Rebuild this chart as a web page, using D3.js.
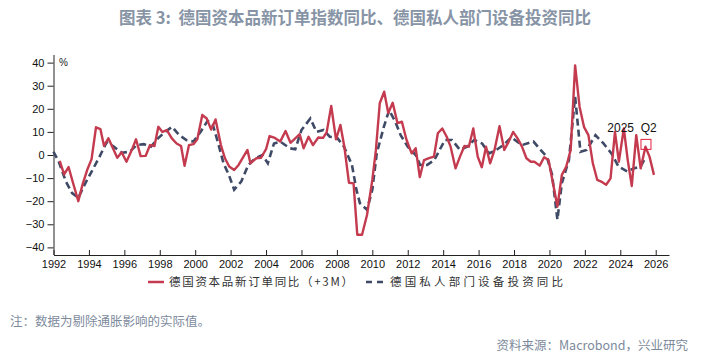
<!DOCTYPE html>
<html><head><meta charset="utf-8">
<script src="https://cdn.jsdelivr.net/npm/d3@7"></script>
<style>body{margin:0;background:#fff}svg{display:block}</style>
</head><body>
<svg id="c" width="707" height="357"></svg>
<script>
const redYears=[1992.35,1992.6,1992.85,1993.1,1993.4,1993.65,1993.9,1994.15,1994.4,1994.65,1994.85,1995.1,1995.35,1995.6,1995.85,1996.12,1996.4,1996.66,1996.92,1997.2,1997.45,1997.7,1997.92,1998.15,1998.4,1998.68,1998.95,1999.2,1999.4,1999.65,1999.9,2000.12,2000.4,2000.65,2000.9,2001.15,2001.45,2001.68,2001.92,2002.2,2002.45,2002.7,2002.95,2003.12,2003.45,2003.72,2004.0,2004.2,2004.5,2004.8,2005.1,2005.38,2005.65,2005.9,2006.12,2006.4,2006.65,2006.95,2007.22,2007.42,2007.68,2007.95,2008.2,2008.42,2008.68,2008.94,2009.15,2009.42,2009.7,2010.0,2010.2,2010.42,2010.67,2010.9,2011.15,2011.42,2011.67,2011.92,2012.22,2012.45,2012.68,2012.92,2013.2,2013.48,2013.7,2013.95,2014.2,2014.42,2014.7,2014.95,2015.2,2015.45,2015.7,2015.95,2016.18,2016.42,2016.65,2016.9,2017.18,2017.45,2017.7,2017.95,2018.2,2018.45,2018.7,2018.95,2019.15,2019.45,2019.7,2019.95,2020.2,2020.45,2020.7,2020.95,2021.2,2021.45,2021.7,2021.95,2022.2,2022.45,2022.7,2022.92,2023.2,2023.45,2023.7,2023.92,2024.2,2024.42,2024.65,2024.9,2025.15,2025.42,2025.65,2025.9];
const redValues=[-2.5,-8.4,-5.2,-12,-20,-12.5,-6.5,-1.8,12,11.2,4,7.2,3,-1.2,1.2,-2.9,1.8,6.8,-0.5,-0.4,4.3,3.9,12.2,10,10.8,7.2,5,3.9,-4.7,4.3,4.7,6.8,17.3,15.8,11,15.4,4.3,-1.4,-5,-6.5,-4.3,-1,2.2,-3.6,-1.4,-1.2,2.5,8.2,7.4,5.8,10.4,5.3,7.2,9,2.9,7.9,4.3,7.6,7.4,9.8,21.2,6.8,13,3.6,-12,-12.3,-34.5,-34.5,-26,-10.8,2,22.4,27.4,18.2,22.6,13.8,14.4,6.8,0.7,2.9,-9.6,-2.2,-1.4,-0.7,9.4,11.5,7.9,3.6,-5.8,-0.7,3.9,3.6,11.5,-0.7,-5.3,3.6,-3.6,2.2,12.5,2.2,5.8,10,7.2,3.6,-1.4,-2.9,-2.9,-4.6,-1,-2.2,-12.2,-22.3,-8.6,-5,2.2,38.8,20.9,12.2,8.6,-3.6,-10.8,-11.5,-12.9,-10.1,10,-2.9,11.5,-2.2,-13.4,8.6,-5.8,3.6,-0.7,-8.6];
const blueYears=[1992.0,1992.3,1992.7,1993.05,1993.4,1993.8,1994.2,1994.6,1995.0,1995.4,1995.85,1996.3,1996.7,1997.1,1997.5,1997.9,1998.3,1998.7,1999.1,1999.5,1999.9,2000.3,2000.7,2001.0,2001.3,2001.6,2001.9,2002.2,2002.6,2003.0,2003.4,2003.8,2004.1,2004.45,2004.8,2005.35,2005.65,2006.0,2006.5,2006.85,2007.25,2007.6,2008.0,2008.4,2008.85,2009.1,2009.3,2009.7,2010.0,2010.25,2010.65,2010.95,2011.3,2011.6,2012.0,2012.45,2012.7,2013.1,2013.5,2013.8,2014.1,2014.5,2014.95,2015.35,2015.75,2016.2,2016.6,2017.0,2017.4,2017.85,2018.45,2019.1,2019.5,2019.85,2020.15,2020.45,2020.7,2021.1,2021.45,2021.75,2022.1,2022.6,2023.05,2023.5,2023.9,2024.4,2024.75,2025.15,2025.4];
const blueValues=[1.4,-3,-11.5,-16.5,-18.5,-12.2,-6.5,-0.7,5.5,3.6,1,1.4,4.3,4.7,3.6,7.2,10,12.2,8.6,6.5,5.8,10,14.8,13,5,-3.6,-8.6,-15,-11.5,-4.3,-1.4,0,-3.6,5,5.8,2.9,2.5,10.8,15.8,10,10.8,7.9,7.6,3.6,-4.3,-15,-20.9,-23.7,-15,0.7,12.2,19.4,14.4,8.6,3.6,0,-4.3,-4.3,-2.2,2.2,6.5,6.5,2.2,3.6,6.5,5,0.7,2.2,4.3,7.6,4.3,5.8,2.2,-0.7,-8.6,-28,-12.2,-2.2,25.2,1.4,2.2,8.6,5,0.7,-5,-7.2,-5.8,-5,-1.4];
const xTicks=[1992,1994,1996,1998,2000,2002,2004,2006,2008,2010,2012,2014,2016,2018,2020,2022,2024,2026];
const yTicks=[-40,-30,-20,-10,0,10,20,30,40];
const seriesNames=["德国资本品新订单同比（+3M）","德国私人部门设备投资同比"];
const annotationText="2025  Q2";
const annotationPoint=[2025.45,4.6];
const titleText="图表 3:  德国资本品新订单指数同比、德国私人部门设备投资同比";
const noteText="注：数据为剔除通胀影响的实际值。";
const sourceText="资料来源：Macrobond，兴业研究";

const svg=d3.select("#c");
const x=d3.scaleLinear().domain([1992,2026.75]).range([53.5,669]);
const y=d3.scaleLinear().domain([-43.3,43.3]).range([255,55]);
const red="#c43a4e", blue="#3f4a66";

svg.append("text").attr("x",355).attr("y",24).attr("text-anchor","middle")
  .attr("font-family","Noto Sans CJK SC").attr("font-weight","bold").attr("font-size",16.5)
  .attr("fill","#8794a6").attr("xml:space","preserve").style("white-space","pre").text(titleText);

const xa=svg.append("g").attr("transform","translate(0,255)")
  .call(d3.axisBottom(x).tickValues(xTicks).tickFormat(d3.format("d")).tickSizeInner(-5).tickSizeOuter(0).tickPadding(5));
const ya=svg.append("g").attr("transform","translate(53.5,0)")
  .call(d3.axisLeft(y).tickValues(yTicks).tickSizeInner(6).tickSizeOuter(0).tickPadding(3));
[xa,ya].forEach(g=>{g.selectAll("path,line").attr("stroke","#222");
  g.selectAll("text").attr("font-family","Liberation Sans").attr("font-size",11).attr("fill","#111");});
ya.select(".domain").attr("d","M0.5,55V255");

svg.append("text").attr("x",59).attr("y",66).attr("font-family","Liberation Sans").attr("font-size",10).attr("fill","#222").text("%");

const redData=redYears.map((d,i)=>[d,redValues[i]]);
const blueData=blueYears.map((d,i)=>[d,blueValues[i]]);
const line=d3.line().x(d=>x(d[0])).y(d=>y(d[1]));
svg.append("path").datum(blueData).attr("d",line).attr("fill","none").attr("stroke",blue)
  .attr("stroke-width",2.6).attr("stroke-dasharray","7,4");
svg.append("path").datum(redData).attr("d",line).attr("fill","none").attr("stroke",red)
  .attr("stroke-width",2.4).attr("stroke-linejoin","round");

svg.append("rect").attr("x",x(annotationPoint[0])-5).attr("y",y(annotationPoint[1])-5)
  .attr("width",10).attr("height",10).attr("fill","none").attr("stroke","#e0203a").attr("stroke-width",1);
svg.append("text").attr("x",632).attr("y",132).attr("text-anchor","middle")
  .attr("font-family","Liberation Sans").attr("font-size",12).attr("fill","#111")
  .attr("xml:space","preserve").style("white-space","pre").text(annotationText);

// legend
const lg=svg.append("g");
lg.append("line").attr("x1",148).attr("x2",164).attr("y1",282).attr("y2",282).attr("stroke",red).attr("stroke-width",2.5);
lg.append("text").attr("x",169).attr("y",286).attr("font-family","Noto Sans CJK SC").attr("font-size",11.5)
  .attr("fill","#333").attr("textLength",184).attr("lengthAdjust","spacing").text(seriesNames[0]);
lg.append("line").attr("x1",366).attr("x2",386).attr("y1",282).attr("y2",282).attr("stroke",blue).attr("stroke-width",2.6).attr("stroke-dasharray","6,5");
lg.append("text").attr("x",390).attr("y",286).attr("font-family","Noto Sans CJK SC").attr("font-size",11.5)
  .attr("fill","#333").attr("textLength",173).attr("lengthAdjust","spacing").text(seriesNames[1]);

svg.append("text").attr("x",10).attr("y",326).attr("font-family","Noto Sans CJK SC").attr("font-size",12.5)
  .attr("fill","#7d8a9c").text(noteText);
svg.append("text").attr("x",688).attr("y",350).attr("text-anchor","end").attr("font-family","Noto Sans CJK SC").attr("font-size",12.5)
  .attr("fill","#7d8a9c").text(sourceText);
</script>
</body></html>
